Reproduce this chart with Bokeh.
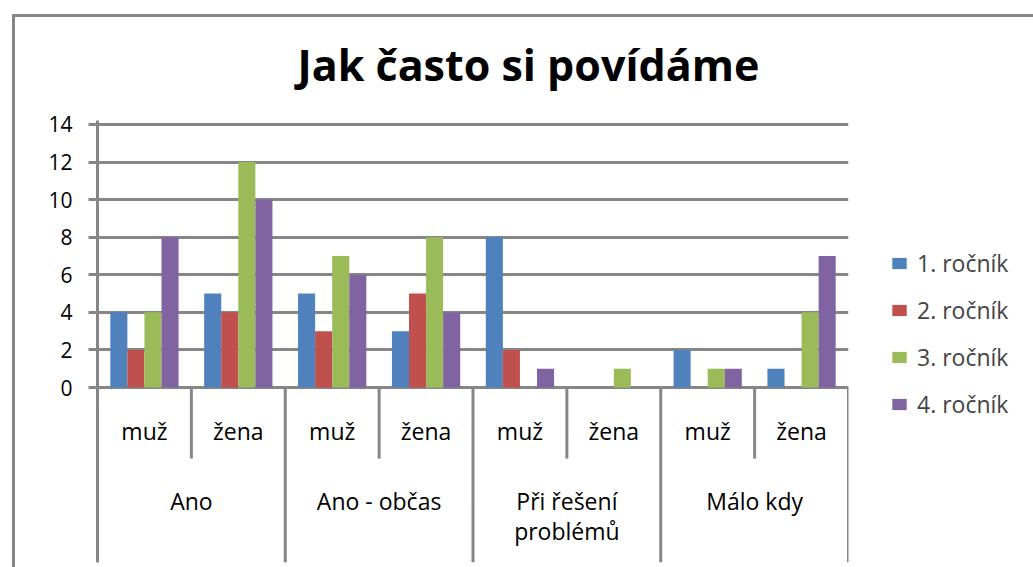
import numpy as np
from bokeh.plotting import figure
from bokeh.models import ColumnDataSource, Range1d, FixedTicker, Legend, LegendItem
from bokeh.core.properties import value
from bokeh.embed import file_html
from bokeh.resources import INLINE

# ---- data ----
title_text = "Jak často si povídáme"
categories = ["Ano", "Ano - občas", "Při řešení\nproblémů", "Málo kdy"]
genders = ["muž", "žena"]
series_names = ["1. ročník", "2. ročník", "3. ročník", "4. ročník"]
# order: Ano muž, Ano žena, Ano-občas muž, Ano-občas žena, Při řešení muž, žena, Málo kdy muž, žena
rocnik1 = [4, 5, 5, 3, 8, 0, 2, 1]
rocnik2 = [2, 4, 3, 5, 2, 0, 0, 0]
rocnik3 = [4, 12, 7, 8, 0, 1, 1, 4]
rocnik4 = [8, 10, 6, 4, 1, 0, 1, 7]
y_ticks = [0, 2, 4, 6, 8, 10, 12, 14]

# ---- style ----
colors = ["#4F81BD", "#C0504D", "#9BBB59", "#8064A2"]
FONT = "Open Sans"
GRAY = "#868686"

n_g = len(genders)
n_sub = len(categories) * n_g
slot = np.arange(n_sub)
bar_w = 1 / 5.5
y_lo, y_hi = -9.31, 14.21

p = figure(frame_width=751, frame_height=442,
           x_range=Range1d(0, n_sub), y_range=Range1d(y_lo, y_hi),
           x_axis_location=None, output_backend="svg", toolbar_location=None,
           min_border_left=97, min_border_top=120, min_border_right=185,
           min_border_bottom=5, outline_line_color=None,
           border_fill_color=None)
p.styles = {
    "background": (f"linear-gradient({GRAY},{GRAY}) 12px 14px / 100% 3px no-repeat, "
                   f"linear-gradient({GRAY},{GRAY}) 12px 14px / 3px 100% no-repeat, #ffffff"),
}

p.title.text = title_text
p.title.text_font = FONT
p.title.text_font_style = "bold"
p.title.text_font_size = "43px"
p.title.text_color = "#000000"
p.title.align = "left"
p.title.offset = 200
p.title.standoff = 54

ax = p.yaxis[0]
ax.ticker = FixedTicker(ticks=y_ticks)
ax.axis_line_color = GRAY
ax.axis_line_width = 3
ax.major_tick_out = 9
ax.major_tick_in = 0
ax.major_tick_line_color = GRAY
ax.major_tick_line_width = 3
ax.minor_tick_out = 0
ax.minor_tick_in = 0
ax.major_label_text_font = FONT
ax.major_label_text_font_size = "21px"
ax.major_label_text_color = "#000000"
ax.major_label_standoff = 16

p.ygrid.ticker = FixedTicker(ticks=y_ticks)
p.ygrid.grid_line_color = GRAY
p.ygrid.grid_line_width = 3
p.xgrid.grid_line_color = None

renderers = []
for i, (vals, col) in enumerate(zip([rocnik1, rocnik2, rocnik3, rocnik4], colors)):
    src = ColumnDataSource(dict(x=slot + 0.5 + (i - 1.5) * bar_w, top=vals))
    r = p.vbar(x="x", top="top", bottom=0, width=bar_w, source=src,
               fill_color=col, line_color=None)
    renderers.append(r)

# category separators below the axis
bounds = np.arange(1, n_sub + 1)
major_x = bounds[bounds % n_g == 0]
minor_x = bounds[bounds % n_g != 0]
p.segment(x0=minor_x, y0=0, x1=minor_x, y1=-3.78, line_color=GRAY, line_width=3)
p.segment(x0=major_x, y0=0, x1=major_x, y1=y_lo, line_color=GRAY, line_width=3)

# labels
p.text(x=slot + 0.5, y=-2.29, text=genders * len(categories),
       text_align="center", text_baseline="middle", text_font=value(FONT),
       text_font_size="23px", text_color="#000000")
p.text(x=np.arange(len(categories)) * n_g + n_g / 2, y=-5.19, text=categories,
       text_align="center", text_baseline="top", text_font=value(FONT),
       text_font_size="23px", text_color="#000000", text_line_height=0.95)

legend = Legend(items=[LegendItem(label=n, renderers=[r]) for n, r in zip(series_names, renderers)],
                location=(42, 142))
legend.glyph_width = 18
legend.glyph_height = 14
legend.label_standoff = 9
legend.label_text_font = FONT
legend.label_text_font_size = "23px"
legend.label_height = 26
legend.spacing = 15
legend.padding = 0
legend.margin = 0
legend.border_line_color = None
legend.background_fill_alpha = 0
p.add_layout(legend, "right")

open("out.html", "w").write(file_html(p, INLINE))
